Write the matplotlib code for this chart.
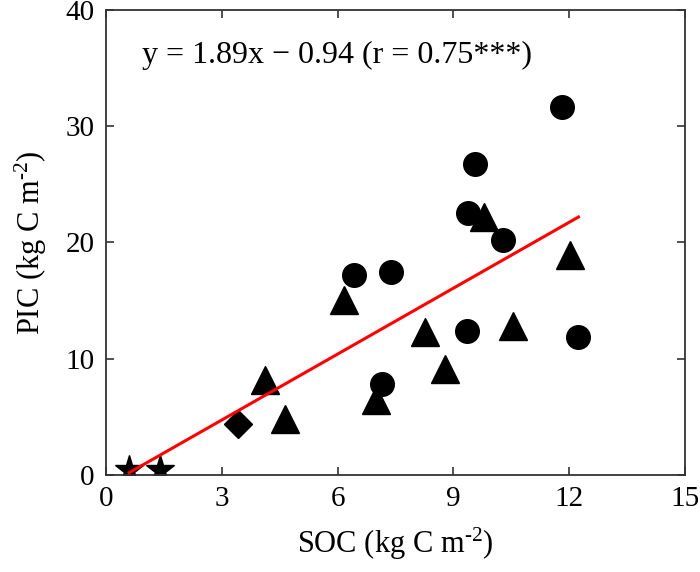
import matplotlib
matplotlib.use('Agg')
import matplotlib.pyplot as plt
import numpy as np

plt.rcParams['font.family'] = ['Liberation Serif', 'DejaVu Serif']
plt.rcParams['mathtext.fontset'] = 'custom'
plt.rcParams['mathtext.rm'] = 'Liberation Serif'
plt.rcParams['mathtext.it'] = 'Liberation Serif:italic'

# SOC vs PIC points, grouped by marker shape
circle_soc = [11.82, 9.57, 9.38, 10.29, 6.43, 7.39, 7.16, 9.35, 12.24]
circle_pic = [31.65, 26.73, 22.5, 20.2, 17.24, 17.5, 7.83, 12.35, 11.83]

triangle_soc = [4.11, 4.65, 6.17, 7.0, 8.26, 8.78, 10.55, 12.02, 9.8]
triangle_pic = [8.17, 4.8, 15.05, 6.47, 12.3, 9.15, 12.8, 18.96, 22.2]

diamond_soc = [3.41]
diamond_pic = [4.4]

star_soc = [0.6, 1.39]
star_pic = [0.45, 0.45]

# fitted line y = 1.89x - 0.94
slope, intercept = 1.89, -0.94
fit_x = [0.6, 12.24]

fig = plt.figure(figsize=(7, 5.72), dpi=100)
ax = fig.add_axes([0.1514, 0.1696, 0.8272, 0.8129])

fx = np.array(fit_x)
ax.plot(fx, slope * fx + intercept, color='red', lw=2.2, zorder=3)

ax.plot(circle_soc, circle_pic, 'o', color='black', ms=17, zorder=2)
ax.plot(triangle_soc, triangle_pic, '^', color='black', ms=20, zorder=2)
ax.plot(diamond_soc, diamond_pic, 'D', color='black', ms=14.5, zorder=2)
ax.plot(star_soc, star_pic, '*', color='black', ms=21, zorder=2)

ax.set_xlim(0, 15)
ax.set_ylim(0, 40)
ax.set_xticks([0, 3, 6, 9, 12, 15])
ax.set_yticks([0, 10, 20, 30, 40])

for s in ax.spines.values():
    s.set_color('#333333')
    s.set_linewidth(1.3)
ax.tick_params(direction='in', length=6, width=1.2, color='#333333',
               top=True, right=True, labelsize=21, pad=8)

ax.set_xlabel(r'SOC (kg C m$^{\text{-2}}$)', fontsize=22, labelpad=10)
ax.set_ylabel(r'PIC (kg C m$^{\text{-2}}$)', fontsize=22, labelpad=12)

ax.text(0.063, 0.903, 'y = 1.89x \u2212 0.94 (r = 0.75***)', transform=ax.transAxes,
        fontsize=23, va='center', ha='left')

fig.savefig('out.png', dpi=100)
